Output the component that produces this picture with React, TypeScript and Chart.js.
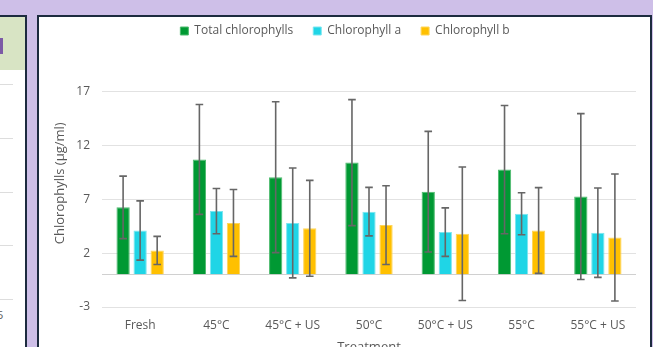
import React, { useEffect, useRef } from 'react';
import { Chart, registerables } from 'chart.js';
Chart.register(...registerables);

const categories = ['Fresh', '45°C', '45°C + US', '50°C', '50°C + US', '55°C', '55°C + US'];
const seriesNames = ['Total chlorophylls', 'Chlorophyll a', 'Chlorophyll b'];
const totalChl = [6.25, 10.7, 9.05, 10.4, 7.7, 9.75, 7.25];
const totalErr = [2.9, 5.1, 7.0, 5.85, 5.6, 5.95, 7.7];
const chlA = [4.1, 5.9, 4.8, 5.85, 3.95, 5.65, 3.9];
const chlAErr = [2.75, 2.1, 5.1, 2.25, 2.25, 1.95, 4.15];
const chlB = [2.25, 4.8, 4.3, 4.6, 3.8, 4.1, 3.45];
const chlBErr = [1.3, 3.1, 4.45, 3.65, 6.2, 3.98, 5.9];
const yTicks = [-3, 0, 2, 7, 12, 17];
const yTickLabels = ['-3', '', '2', '7', '12', '17'];
const yTitleText = 'Chlorophylls (µg/ml)';
const xTitleText = 'Treatment';

const FONT = '"Open Sans", Lato, sans-serif';
const TEXT = '#595959';

export default function App() {
  const ref = useRef<HTMLCanvasElement>(null);

  useEffect(() => {
    if (!ref.current) return;
    const errs = [totalErr, chlAErr, chlBErr];

    const errorBars = {
      id: 'errorBars',
      afterDatasetsDraw(chart: any) {
        const ctx = chart.ctx;
        const y = chart.scales.y;
        ctx.save();
        ctx.strokeStyle = '#666666';
        ctx.lineWidth = 1.6;
        chart.data.datasets.forEach((ds: any, i: number) => {
          const meta = chart.getDatasetMeta(i);
          meta.data.forEach((bar: any, j: number) => {
            const v = ds.data[j];
            const e = errs[i][j];
            const yt = y.getPixelForValue(v + e);
            const yb = y.getPixelForValue(v - e);
            const x = bar.x;
            ctx.beginPath();
            ctx.moveTo(x, yt);
            ctx.lineTo(x, yb);
            ctx.moveTo(x - 3.8, yt);
            ctx.lineTo(x + 3.8, yt);
            ctx.moveTo(x - 3.8, yb);
            ctx.lineTo(x + 3.8, yb);
            ctx.stroke();
          });
        });
        ctx.restore();
      },
    };

    const legendSpace = {
      id: 'legendSpace',
      beforeInit(chart: any) {
        const orig = chart.legend.fit;
        chart.legend.fit = function () {
          orig.call(this);
          this.height = 86.5;
        };
      },
    };

    const yTitle = {
      id: 'yTitle',
      afterDraw(chart: any) {
        const { ctx, chartArea } = chart;
        ctx.save();
        ctx.translate(60, (chartArea.top + chartArea.bottom) / 2 - 16);
        ctx.rotate(-Math.PI / 2);
        ctx.font = '13px ' + FONT;
        ctx.fillStyle = TEXT;
        ctx.textAlign = 'center';
        ctx.textBaseline = 'middle';
        ctx.fillText(yTitleText, 0, 0);
        ctx.restore();
      },
    };

    const chart = new Chart(ref.current, {
      type: 'bar',
      data: {
        labels: categories,
        datasets: [
          { label: seriesNames[0], data: totalChl, backgroundColor: '#009933', borderColor: '#4dbb6e', borderWidth: 1 },
          { label: seriesNames[1], data: chlA, backgroundColor: '#1fd5e6', borderColor: '#7ae6f0', borderWidth: 1 },
          { label: seriesNames[2], data: chlB, backgroundColor: '#ffc000', borderColor: '#ffd559', borderWidth: 1 },
        ],
      },
      options: {
        animation: false,
        responsive: true,
        maintainAspectRatio: false,
        datasets: { bar: { categoryPercentage: 0.67, barPercentage: 0.78 } },
        layout: { padding: { left: 54, right: 17, top: 5, bottom: 0 } },
        plugins: {
          tooltip: { enabled: false },
          legend: {
            position: 'top',
            labels: {
              boxWidth: 8,
              boxHeight: 8,
              padding: 20,
              color: TEXT,
              font: { family: FONT, size: 12 },
            },
          },
        },
        scales: {
          x: {
            grid: { display: false },
            border: { display: false },
            ticks: {
              color: TEXT,
              font: { family: FONT, size: 12 },
              padding: 3,
              maxRotation: 0,
              autoSkip: false,
            },
            title: {
              display: true,
              text: xTitleText,
              color: TEXT,
              font: { family: FONT, size: 13 },
              padding: { top: 0, bottom: 5 },
            },
            afterFit(s: any) {
              s.height = 53;
            },
          },
          y: {
            min: -3,
            max: 17,
            afterBuildTicks(s: any) {
              s.ticks = yTicks.map((v) => ({ value: v }));
            },
            ticks: {
              color: TEXT,
              font: { family: FONT, size: 12 },
              padding: 12,
              callback: (_v: any, i: number) => yTickLabels[i],
            },
            grid: {
              color: (c: any) => (c.tick && c.tick.value === 0 ? '#d0d0d0' : '#e2e2e2'),
              drawTicks: false,
              lineWidth: 1,
            },
            border: { display: false },
            afterFit(s: any) {
              s.width = 48;
            },
          },
        },
      },
      plugins: [legendSpace, errorBars, yTitle],
    });
    return () => chart.destroy();
  }, []);

  const purple = '#cebfe8';
  const navy = '#1d2b3f';
  const leftLines = [84, 138, 192, 245, 299];

  return (
    <div style={{ position: 'fixed', left: 0, top: 0, width: 653, height: 347, overflow: 'hidden', background: purple }}>
      <div style={{ position: 'absolute', left: -4, top: 15, width: 29, height: 340, background: '#ffffff', borderRight: `2px solid ${navy}`, borderTop: `2px solid ${navy}` }}>
        <div style={{ position: 'absolute', left: 0, top: 0, width: 29, height: 53, background: '#d8e4c4' }} />
        <div style={{ position: 'absolute', left: 4, top: 21, width: 3, height: 16, background: '#7c5aa6' }} />
        {leftLines.map((y) => (
          <div key={y} style={{ position: 'absolute', left: 0, top: y - 17, width: 17, height: 1, background: '#dddddd' }} />
        ))}
        <div style={{ position: 'absolute', left: 1, top: 292, fontFamily: FONT, fontSize: 11, color: TEXT, lineHeight: '12px' }}>5</div>
      </div>
      <div style={{ position: 'absolute', left: 37, top: 15, width: 611, height: 340, background: '#ffffff', border: `2px solid ${navy}` }} />
      <div style={{ position: 'absolute', left: 0, top: 0, width: 653, height: 360 }}>
        <canvas ref={ref} />
      </div>
    </div>
  );
}
